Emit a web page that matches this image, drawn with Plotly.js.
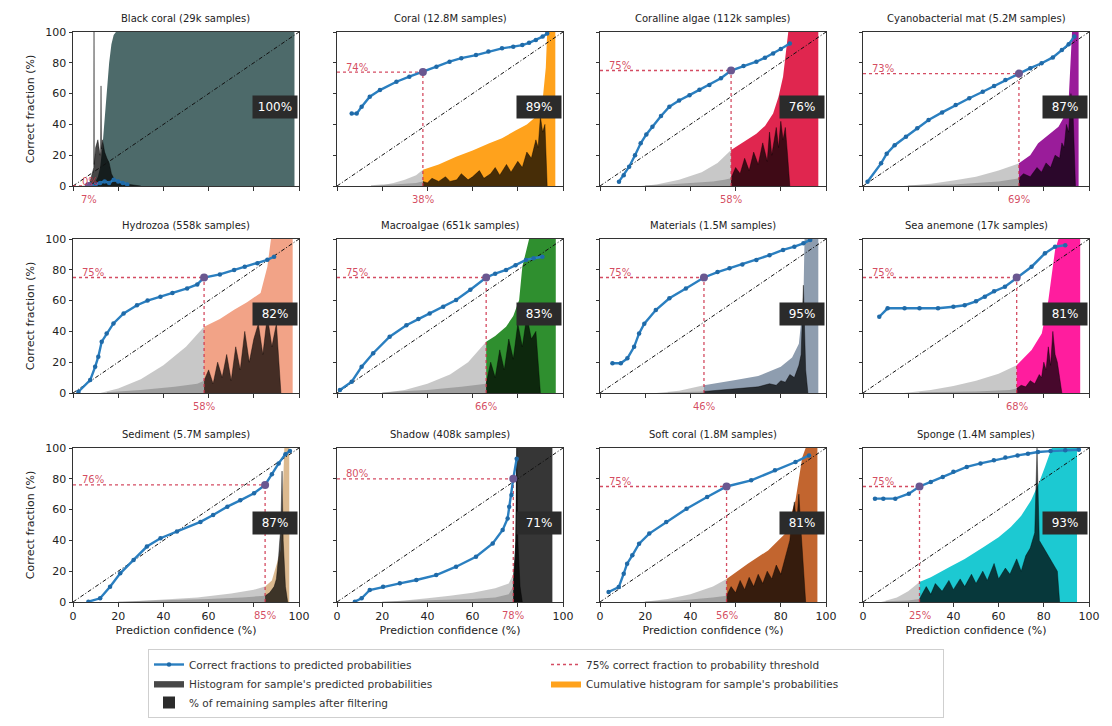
<!DOCTYPE html>
<html><head><meta charset="utf-8">
<script src="https://cdn.plot.ly/plotly-3.0.1.min.js"></script>
<style>body{margin:0;background:#fff}#chart{width:1112px;height:726px}</style>
</head><body><div id="chart"></div>
<script>
// ---------------- DATA ----------------
const categories = ["Black coral","Coral","Coralline algae","Cyanobacterial mat","Hydrozoa","Macroalgae","Materials","Sea anemone","Sediment","Shadow","Soft coral","Sponge"];
const sampleCounts = ["29k","12.8M","112k","5.2M","558k","651k","1.5M","17k","5.7M","408k","1.8M","1.4M"];
const thresholdX = [7,38,58,69,58,66,46,68,85,78,56,25];
const thresholdY = [0,74,75,73,75,75,75,75,76,80,75,75];
const remainingPct = [100,89,76,87,82,83,95,81,87,71,81,93];
const xTicks = [0,20,40,60,80,100];
const diagonal = [0,100];

// correct fraction curve (x = prediction confidence %, y = correct fraction %)
const curveX = [
 [8,10,12,14,16,18,20,22,24],
 [6.5,8.7,10.9,14.5,19,26.3,32,38,44,49.8,55,61.5,67,73,78,82,85,88,91,93],
 [8.4,10.5,12.9,15.5,18,20.5,23.2,27,30.7,35,39.6,44,48.4,53.5,58,63.5,69.2,73,76.6,80,84],
 [2,8,10.5,14,19,24,29,35,41,47,53,58,63,69,74,79,84,88,91,93.5],
 [2.4,7.6,9.8,11.2,12.7,14.9,17.9,22.4,28.3,33,38.7,44,50.5,55,58,65,71.3,76,81.6,86,89],
 [1.3,6.5,10.9,16,23.3,30.7,36,41,47,52.7,59,66,70,74.8,79,83.6,87,90.9],
 [5.5,9.2,12.1,15.1,17.3,19.6,24.7,30.7,38,46,52,57.3,63,69.2,75,81,86,90,93],
 [7.2,10.9,18.4,25,33.2,40,45,50,53.9,58,62.8,68,74.6,80.5,85,89.5],
 [6.8,12,16.4,20.9,26.8,32.7,38.7,46,56.4,62,68.3,74,80.1,85,88,91,94,96],
 [7.9,10.9,14.5,20.4,27.8,35.1,43.9,52.7,61.5,68.9,73.3,75.5,76.2,77.2,78,79.5],
 [3.8,8.3,10.5,12,14.3,17.3,21.8,29.3,38.3,47.4,56,66.9,77.4,86.5,92.5],
 [5.3,9,14.3,20.3,25,30,35.3,40,45.9,52,57.9,63,68.4,73,77.4,83,89.5,95.5]
];
const curveY = [
 [0,1,2,3,2,4,3,2,1],
 [47,47,51.5,58,62.3,67.7,71,74,77.5,80.7,83,85,87.3,89.4,90.5,91.5,93,94.8,97,99],
 [2.8,7,12.5,20,27.7,33.5,38.5,45.5,51.5,55.5,59,62.5,65.6,70,75,78,80.7,83.3,86,89,92.6],
 [2.8,14.7,21,26.5,32,37.5,42.9,47.8,52.6,57,61.2,65,68.8,73,76.5,79.7,83.5,88.3,92,97],
 [0.8,8.4,17,23.6,33.3,38.7,45.2,51.7,57,60,62.5,65,67.9,70.5,75,77,79.9,82,84.2,86.5,88.5],
 [2,7.3,17,25.8,36.6,44,48,51.7,56,60.4,67,75,77.5,79.9,83,86.4,87.5,88.5],
 [19.3,19.3,22.5,30,38.7,45,53.9,61.5,67.9,75,78.5,81,83.5,86.4,89.5,92.9,95,97.2,99.4],
 [49.5,55,55,55,55,56,57,59.5,62.5,66,69,75,82,90.7,95,96],
 [0.2,2.4,9.9,18.6,27.3,36,41.4,45.7,52,56.5,61.9,66,70.6,76,83,90,96,98],
 [0.2,2.4,7.8,9.9,12.1,14.3,17.5,22.9,29.4,38,46.8,54.3,61.9,69.5,80,93],
 [6.5,9.7,18.4,24.9,30.3,37.9,44.4,51.9,60.6,68.2,75,79,85.5,90.9,95.2],
 [67.1,67.1,67.1,70.3,75,78,81.2,84.5,87.7,90,92,93.8,95.2,96.3,97.4,98,98.5,98.9]
];
// cumulative histogram outline (% of axis height)
const cumX = [
 [2,4,6,7,9,10,11,12,13,14,15,16,17,18,19,98,98],
 [15,20,25,30,35,38,45,52.7,60,67.4,73,79,84,88,91,92.4,93,96.6,96.6],
 [18,25,35,45,52,58,63,69.2,73,76.6,79,81,83.3,96.6,96.6],
 [18,30,40,50,60,69,74,77.5,82,86.5,89,91,92.5,95.4,95.4],
 [12,20,30,40,50,58,65,71.3,77,83,86,87.6,97.2,97.2],
 [20,30,40,50,58,66,70,74.8,78,80.6,82,85,96.8,96.8],
 [25,35,46,55,60,70,80,85,88,90,90.5,96.6,96.6],
 [18,30,40,50,60,68,74.6,79.1,82,85,86.5,96.1,96.1],
 [22,40,55,70,80,85,88,92,93.5,95.7,95.7],
 [20,30,40,50,60,70,76,78,79,79.5,95.3,95.3],
 [18.8,30,40,50,56,65.4,74.4,82,86.5,89.5,91,96.2,96.2],
 [8,15,20,25,30,38.3,45,53.4,60,65.4,70,74.4,78,80.5,83.5,94.7,94.7]
];
const cumY = [
 [0,0.2,0.5,1,2,3,6,12,25,45,62,80,92,98,100,100,0],
 [0,0.5,2,4,7,10.5,14,19,23,27.7,31,36,40,45,56,77,100,100,0],
 [0,1,4,9,15,23.4,28,34,39,47,58,71,100,100,0],
 [0,1.5,3.5,6,10,14.7,20,27.7,33,38.5,45,55.8,100,100,0],
 [0,3,9,18,30,43,48,54,59,65,82,100,100,0],
 [0,2,6,12,20,33.3,37,43,50,60.4,82,100,100,0],
 [0,1.5,5,7,8.4,11,17,23,32,60,100,100,0],
 [0,2,4.5,8,12.5,18,28,38.7,60,93,100,100,0],
 [0,1.5,3,5.5,8,10,14,34,100,100,0],
 [0,1,2.5,4,6,9,12,18,40,100,100,0],
 [0,2,5,10,15,24.9,33.5,44.4,66,94,100,100,0],
 [0,3,7,13,16,22.7,28,35.7,42,48.7,56,66,78,87.7,100,100,0]
];
// histogram of predicted probabilities (% of axis height)
const histX = [
 [2,5,7,8,9,9.2,9.3,9.4,10,11,12,12.2,12.4,12.6,13,14,15,16,17,18,20,25,30],
 [15,20,25,30,35,38,40,42,45,48,50,53,55,58,60,63,65,68,70,72,75,77,80,82,84,86,88,89,90,91,92,93],
 [20,30,40,50,55,58,60,62,64,66,68,70,72,74,75,76,78,79,80,81,82,83,84],
 [20,40,60,69,71,74,77,79,81,83,85,87,88,89,90,91,92,93,94],
 [15,30,45,55,58,60,62,64,66,68,70,72,74,76,78,80,82,84,86,88,90,91,92],
 [20,40,55,66,68,70,72,74,76,78,80,82,84,86,88,89,90],
 [30,46,55,65,70,75,78,80,82,84,86,88,89,90,90.5,91,92],
 [25,50,65,68,70,72,74,76,78,79,80,81,82,83,84,85,86,87,88],
 [20,40,60,75,85,87,89,90,91,92,92.5,93,94,95],
 [20,40,60,70,76,78,79,79.5,80,81,82],
 [20,35,50,56,58,60,62,64,66,68,70,72,74,76,78,80,82,84,85,86,87,88,89,90,91],
 [10,20,25,28,30,32,35,38,40,43,45,48,50,53,55,58,60,63,65,68,70,72,74,76,77,78,80,82,84,86,87]
];
const histY = [
 [0,0,0,5,10,12,100,14,25,30,20,22,65,24,30,22,18,15,8,5,3,1,0],
 [0.5,1,1,1.5,2,3,2,5,3,6,3,4,8,4,6,10,5,8,12,7,14,9,16,12,22,18,30,25,45,35,40,0],
 [0.5,1,2,3,4,5,12,8,18,10,22,14,28,16,35,20,38,25,42,30,38,20,0],
 [0.5,1,3,5,8,6,12,9,15,12,20,18,28,25,40,35,60,45,0],
 [0.5,2,4,6,8,15,6,20,10,25,8,30,15,40,20,35,45,25,50,30,45,20,0],
 [0.5,2,4,6,20,10,28,15,35,22,45,30,50,35,40,20,0],
 [0.3,1,2,3,4,6,5,8,7,12,10,18,25,70,40,15,0],
 [0.5,1,2,3,5,4,8,6,12,10,20,15,30,18,40,25,20,10,0],
 [0.3,1,2,3,4,6,10,15,30,50,85,40,10,0],
 [0.3,1,2,3,5,10,30,100,40,10,0],
 [0.5,1,3,4,10,6,14,8,16,10,18,12,20,15,24,18,30,40,55,65,50,70,45,20,0],
 [0.5,1,2,10,5,12,7,14,8,15,10,18,12,20,14,25,15,22,18,28,20,30,35,45,100,40,35,30,25,20,0]
];

// ---------------- STYLE ----------------
const catColors = ["#4d6a6a","#ffa21c","#e0264f","#9a1c9a","#f2a387","#2f8f2f","#8e9daf","#ff1d9e","#dbb98f","#363636","#c2652f","#1cc9d2"];
const W=1112, H=726;
const colX0=[73,337,600,863], panelW=226, rowTop=[32,239,448], panelH=154;
const FONT="DejaVu Sans, Arial, sans-serif";
const RED="rgba(205,45,70,0.85)";

const data=[]; const annotations=[];
const layout={width:W,height:H,margin:{l:0,r:0,t:0,b:0},paper_bgcolor:"#fff",plot_bgcolor:"#fff",
  font:{family:FONT,size:10,color:"#222"},
  showlegend:true,
  legend:{orientation:"h",x:148/W,y:1-649/H,xanchor:"left",yanchor:"top",bordercolor:"#cfcfcf",borderwidth:1,
    bgcolor:"#fff",font:{family:FONT,size:10.5,color:"#333"},entrywidth:352,entrywidthmode:"pixels",traceorder:"normal",itemwidth:30,tracegroupgap:0}
};

categories.forEach((cat,i)=>{
  const r=Math.floor(i/4), c=i%4;
  const xa=i===0?"x":"x"+(i+1), ya=i===0?"y":"y"+(i+1);
  const xk=i===0?"xaxis":"xaxis"+(i+1), yk=i===0?"yaxis":"yaxis"+(i+1);
  const thr=thresholdX[i], thrY=thresholdY[i];
  const ticktext=xTicks.map(t=> (Math.abs(t-thr)<12)?"":String(t));
  layout[xk]={domain:[colX0[c]/W,(colX0[c]+panelW)/W],anchor:ya,range:[0,100],tickvals:xTicks,ticktext:ticktext,
    showticklabels:r===2,ticks:"outside",ticklen:3.5,tickcolor:"#333",showline:true,mirror:true,linecolor:"#333",linewidth:1,
    showgrid:false,zeroline:false,automargin:false,tickfont:{size:11,color:"#222"},
    title:r===2?{text:"Prediction confidence (%)",font:{size:11,color:"#222"},standoff:4}:{text:""}};
  layout[yk]={domain:[1-(rowTop[r]+panelH)/H,1-rowTop[r]/H],anchor:xa,range:[0,100],tickvals:xTicks,
    showticklabels:c===0,ticks:"outside",ticklen:3.5,tickcolor:"#333",showline:true,mirror:true,linecolor:"#333",linewidth:1,
    showgrid:false,zeroline:false,automargin:false,tickfont:{size:11,color:"#222"},
    title:c===0?{text:"Correct fraction (%)",font:{size:11,color:"#222"},standoff:8}:{text:""}};

  const leg=(i===1);
  const cx=cumX[i], cy=cumY[i];
  const gI=cx.map((v,k)=>k).filter(k=>cx[k]<=thr), cI=cx.map((v,k)=>k).filter(k=>cx[k]>=thr);
  data.push({x:gI.map(k=>cx[k]),y:gI.map(k=>cy[k]),xaxis:xa,yaxis:ya,mode:"lines",line:{width:0,color:"#c8c8c8"},
    fill:"tozeroy",fillcolor:"rgba(190,190,190,0.85)",showlegend:false,hoverinfo:"skip"});
  data.push({x:cI.map(k=>cx[k]),y:cI.map(k=>cy[k]),xaxis:xa,yaxis:ya,mode:"lines",line:{width:0,color:catColors[i]},
    fill:"tozeroy",fillcolor:catColors[i],name:"Cumulative histogram for sample's probabilities",showlegend:leg,legendrank:4,hoverinfo:"skip"});
  const hx=histX[i], hy=histY[i];
  const hgI=hx.map((v,k)=>k).filter(k=>hx[k]<=thr), hcI=hx.map((v,k)=>k).filter(k=>hx[k]>=thr);
  data.push({x:hgI.map(k=>hx[k]),y:hgI.map(k=>hy[k]),xaxis:xa,yaxis:ya,mode:"lines",line:{width:0,color:"#888"},
    fill:"tozeroy",fillcolor:"rgba(110,110,110,0.45)",showlegend:false,hoverinfo:"skip"});
  data.push({x:hcI.map(k=>hx[k]),y:hcI.map(k=>hy[k]),xaxis:xa,yaxis:ya,mode:"lines",line:{width:0.5,color:"rgba(0,0,0,0.8)"},
    fill:"tozeroy",fillcolor:"rgba(0,0,0,0.72)",name:"Histogram for sample's predicted probabilities",showlegend:leg,legendrank:3,hoverinfo:"skip"});
  data.push({x:diagonal,y:diagonal,xaxis:xa,yaxis:ya,mode:"lines",line:{color:"#111",width:1,dash:"4px,2px,1px,2px"},showlegend:false,hoverinfo:"skip"});
  data.push({x:[0,thr,null,thr,thr],y:[thrY,thrY,null,0,thrY],xaxis:xa,yaxis:ya,mode:"lines",
    line:{color:RED,width:1.3,dash:"dot"},name:"75% correct fraction to probability threshold",showlegend:leg,legendrank:2,hoverinfo:"skip"});
  data.push({x:curveX[i],y:curveY[i],xaxis:xa,yaxis:ya,mode:"lines+markers",line:{color:"#2a7fc0",width:2.4},
    marker:{color:"#1f6aa8",size:4.5},name:"Correct fractions to predicted probabilities",showlegend:leg,legendrank:1,hoverinfo:"skip"});
  data.push({x:[thr],y:[thrY],xaxis:xa,yaxis:ya,mode:"markers",marker:{color:"#6a5790",size:8},showlegend:false,hoverinfo:"skip"});

  // annotations
  annotations.push({xref:"paper",yref:"paper",x:(colX0[c]+panelW/2)/W,y:1-(rowTop[r]-6)/H,xanchor:"center",yanchor:"bottom",
    text:cat+" ("+sampleCounts[i]+" samples)",showarrow:false,font:{size:10,color:"#222"}});
  annotations.push({xref:xa,yref:ya,x:3,y:thrY,xanchor:"left",yanchor:"middle",yshift:5,text:thrY+"%",showarrow:false,font:{size:10,color:RED}});
  annotations.push({xref:xa,yref:ya+" domain",x:thr,y:0,xanchor:"center",yanchor:"top",yshift:-6,text:thr+"%",showarrow:false,font:{size:10,color:RED}});
  annotations.push({xref:xa,yref:ya,x:99.5,y:51,xanchor:"right",yanchor:"middle",text:remainingPct[i]+"%",showarrow:false,
    bgcolor:"#2b2b2b",width:38,height:16,borderpad:3,font:{size:12,color:"#fff"}});
});
// legend-only entry for the dark "% remaining" boxes
data.push({x:[null],y:[null],xaxis:"x2",yaxis:"y2",mode:"markers",marker:{symbol:"square",size:12,color:"#2b2b2b"},
  name:"% of remaining samples after filtering",showlegend:true,legendrank:5,hoverinfo:"skip"});
layout.annotations=annotations;
Plotly.newPlot("chart",data,layout,{staticPlot:true});
</script>
</body></html>
